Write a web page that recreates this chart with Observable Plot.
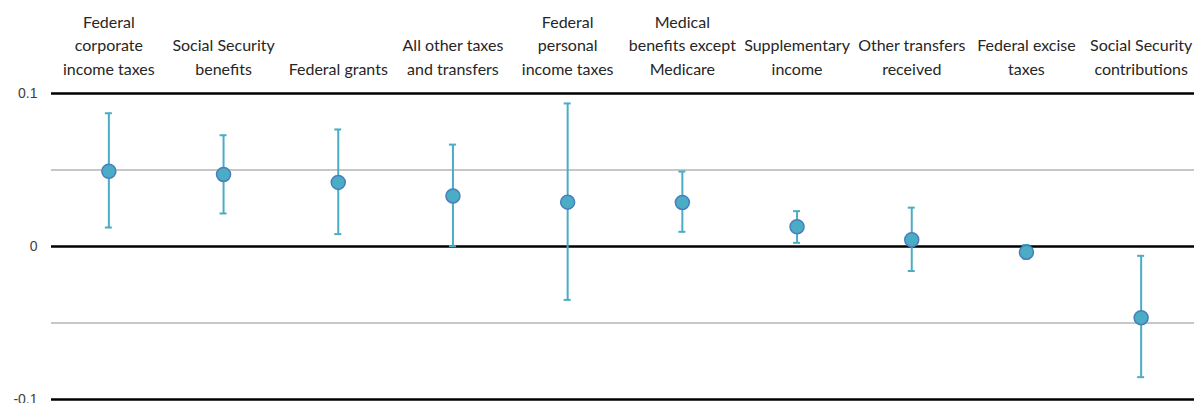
<!DOCTYPE html>
<html>
<head>
<meta charset="utf-8">
<script src="https://cdn.jsdelivr.net/npm/d3@7"></script>
<script src="https://cdn.jsdelivr.net/npm/@observablehq/plot@0.6"></script>
<style>
  html, body { margin: 0; padding: 0; background: #fff; }
  #chart { width: 1194px; height: 403px; overflow: hidden; }
</style>
</head>
<body>
<div id="chart"></div>
<script>
const categories = [
  "Federal\ncorporate\nincome taxes",
  "Social Security\nbenefits",
  "Federal grants",
  "All other taxes\nand transfers",
  "Federal\npersonal\nincome taxes",
  "Medical\nbenefits except\nMedicare",
  "Supplementary\nincome",
  "Other transfers\nreceived",
  "Federal excise\ntaxes",
  "Social Security\ncontributions"
];
const estimates = [0.0492, 0.0471, 0.0419, 0.0330, 0.0290, 0.0288, 0.0129, 0.0044, -0.0037, -0.0465];
const lower     = [0.0124, 0.0216, 0.0081, 0.0002, -0.0349, 0.0096, 0.0024, -0.0160, -0.0080, -0.0854];
const upper     = [0.0871, 0.0727, 0.0765, 0.0666, 0.0935, 0.0490, 0.0231, 0.0254, 0.0010, -0.0061];
const yTicks = [-0.1, 0, 0.1];
const yTickLabels = ["-0.1", "0", "0.1"];
const majorLines = [0.1, 0, -0.1];
const minorLines = [0.05, -0.05];

const data = categories.map((c, i) => ({cat: c, est: estimates[i], lo: lower[i], hi: upper[i]}));
const yLabelData = yTicks.map((v, i) => ({v, label: yTickLabels[i]}));

const bandW = (1198 - 51) / categories.length;
const capInset = (bandW - 7) / 2;

const chart = Plot.plot({
  width: 1194,
  height: 403,
  marginLeft: 51,
  marginRight: 0,
  marginTop: 93,
  marginBottom: 4,
  style: {background: "#fff", overflow: "visible"},
  x: {domain: categories, range: [51, 1198], padding: 0, round: false, axis: null, label: null},
  y: {domain: [-0.1, 0.1], axis: null, label: null},
  marks: [
    Plot.axisX({anchor: "top", label: null, tickSize: 0, tickPadding: 19, fontSize: 16, fill: "#262626",
      fontFamily: "Lato, 'Open Sans', sans-serif", lineHeight: 1.44, tickFormat: d => d}),
    Plot.text(yLabelData, {y: "v", text: "label", frameAnchor: "left", dx: -14, textAnchor: "end",
      fontSize: 14, fill: "#404040", fontFamily: "'Liberation Sans', Arial, sans-serif"}),
    Plot.ruleY(minorLines, {stroke: "#b4b4b4", strokeWidth: 1.5}),
    Plot.ruleY(majorLines, {stroke: "#000", strokeWidth: 2.5}),
    Plot.ruleX(data, {x: "cat", y1: "lo", y2: "hi", stroke: "#4bacc6", strokeWidth: 2}),
    Plot.tickY(data, {x: "cat", y: "lo", stroke: "#4bacc6", strokeWidth: 2, insetLeft: capInset, insetRight: capInset}),
    Plot.tickY(data, {x: "cat", y: "hi", stroke: "#4bacc6", strokeWidth: 2, insetLeft: capInset, insetRight: capInset}),
    Plot.dot(data, {x: "cat", y: "est", r: 7, fill: "#4bacc6", stroke: "#4a7ebb", strokeWidth: 1.5})
  ]
});
document.getElementById("chart").appendChild(chart);
</script>
</body>
</html>
